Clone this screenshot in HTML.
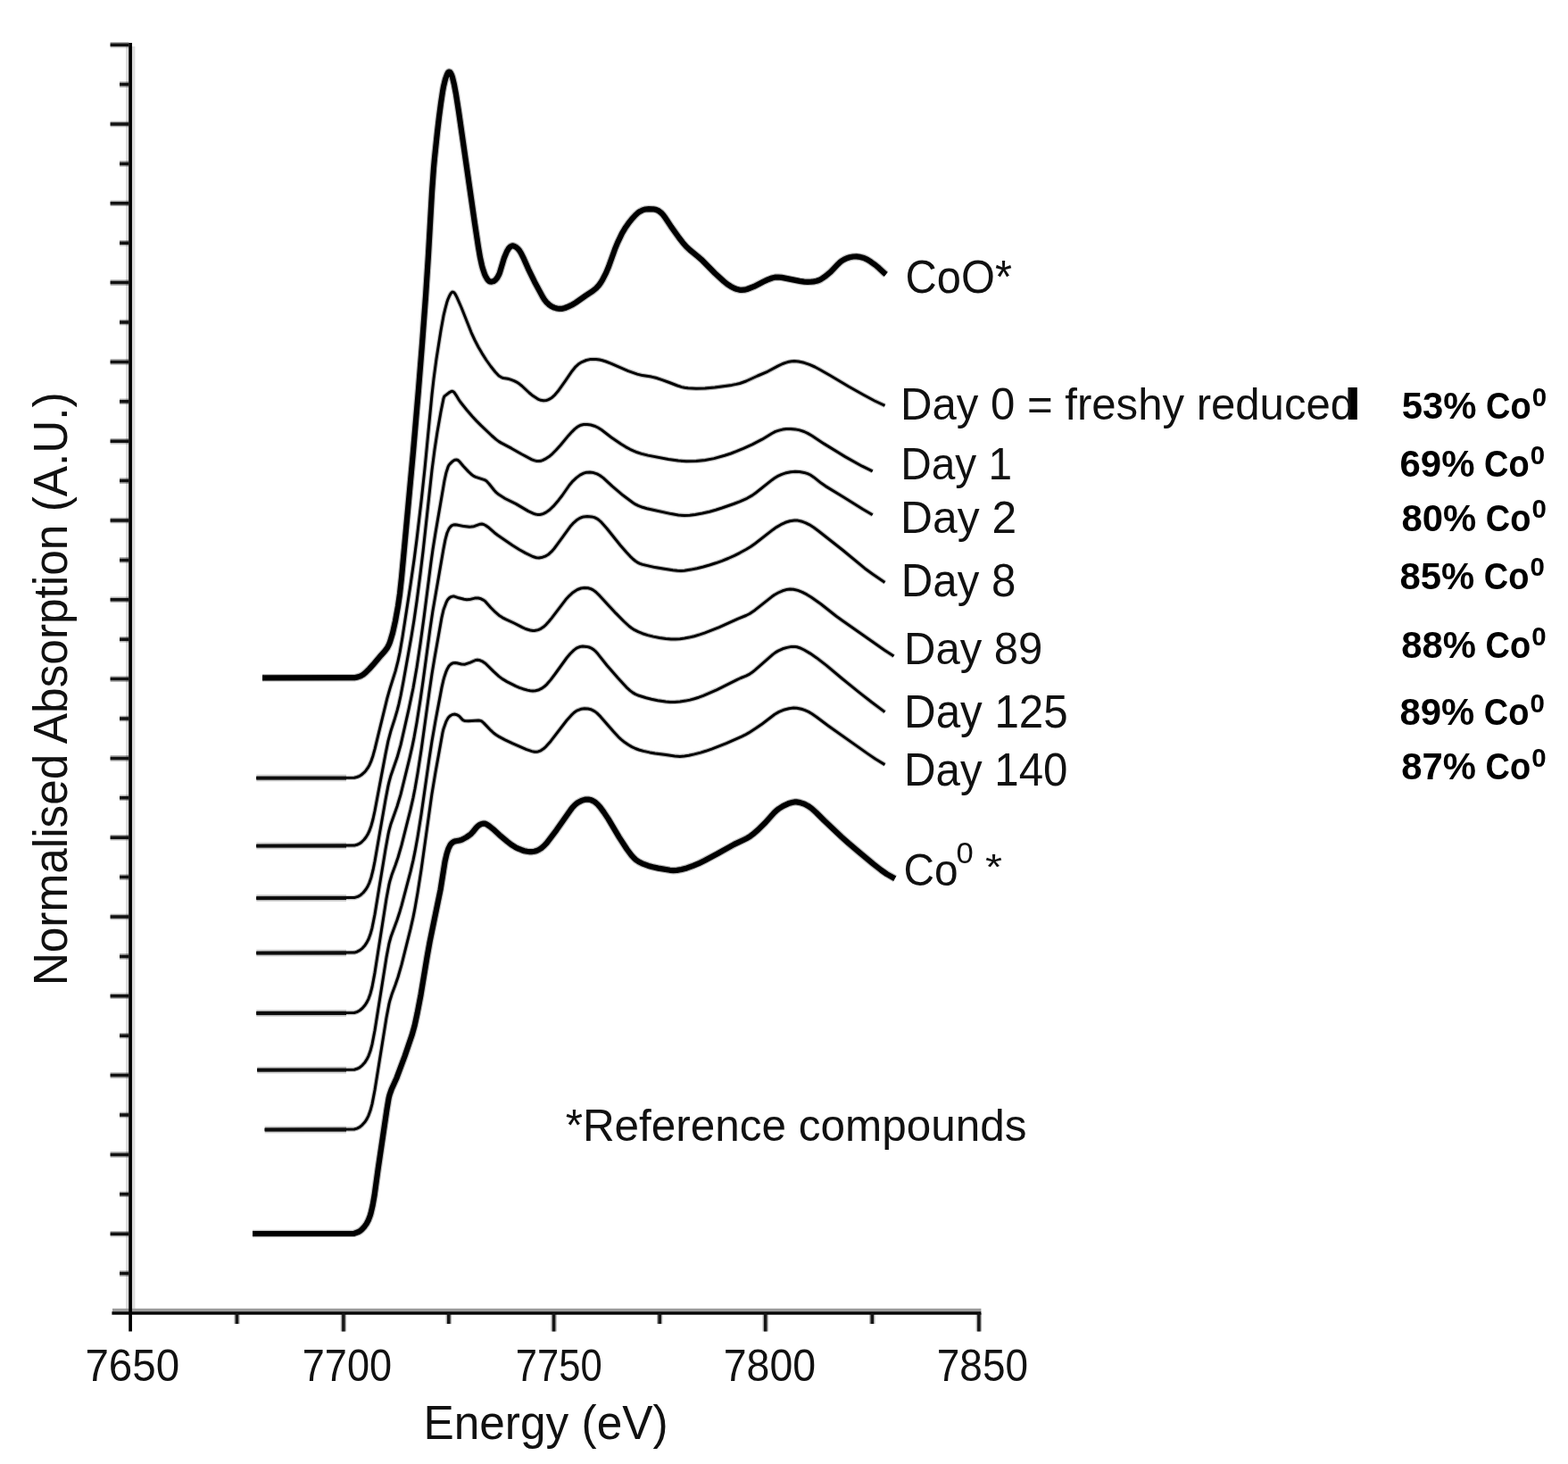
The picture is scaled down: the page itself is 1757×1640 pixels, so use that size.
<!DOCTYPE html>
<html lang="en"><head><meta charset="utf-8"><title>Co K-edge XANES</title>
<style>html,body{margin:0;padding:0;background:#fff}body{width:1757px;height:1640px;overflow:hidden}svg{display:block}</style>
</head><body>
<svg width="1757" height="1640" viewBox="0 0 1757 1640">
<rect width="1757" height="1640" fill="#fff"/>
<g>
<g fill="none" stroke-linecap="butt">
<rect x="141" y="52" width="10.4" height="1414" fill="#dcdcdc"/>
<rect x="126" y="1465.8" width="973.4" height="3.6" fill="#9c9c9c"/>
<path d="M146.1 48 V1491.6" stroke="#000" stroke-width="3.7"/>
<path d="M125.4 1471 H1099.4" stroke="#050505" stroke-width="3.6"/>
</g>
<path d="M123.6 50.2 H144.4 M134 94.6 H144.4 M123.6 139.0 H144.4 M134 183.4 H144.4 M123.6 227.8 H144.4 M134 272.2 H144.4 M123.6 316.6 H144.4 M134 361.0 H144.4 M123.6 405.4 H144.4 M134 449.8 H144.4 M123.6 494.2 H144.4 M134 538.6 H144.4 M123.6 583.0 H144.4 M134 627.4 H144.4 M123.6 671.8 H144.4 M134 716.2 H144.4 M123.6 760.6 H144.4 M134 805.0 H144.4 M123.6 849.4 H144.4 M134 893.8 H144.4 M123.6 938.2 H144.4 M134 982.6 H144.4 M123.6 1027.0 H144.4 M134 1071.4 H144.4 M123.6 1115.8 H144.4 M134 1160.2 H144.4 M123.6 1204.6 H144.4 M134 1249.0 H144.4 M123.6 1293.4 H144.4 M134 1337.8 H144.4 M123.6 1382.2 H144.4 M134 1426.6 H144.4" stroke="#000" stroke-opacity="0.3" stroke-width="6.6" fill="none"/>
<path d="M123.6 50.2 H144.4 M134 94.6 H144.4 M123.6 139.0 H144.4 M134 183.4 H144.4 M123.6 227.8 H144.4 M134 272.2 H144.4 M123.6 316.6 H144.4 M134 361.0 H144.4 M123.6 405.4 H144.4 M134 449.8 H144.4 M123.6 494.2 H144.4 M134 538.6 H144.4 M123.6 583.0 H144.4 M134 627.4 H144.4 M123.6 671.8 H144.4 M134 716.2 H144.4 M123.6 760.6 H144.4 M134 805.0 H144.4 M123.6 849.4 H144.4 M134 893.8 H144.4 M123.6 938.2 H144.4 M134 982.6 H144.4 M123.6 1027.0 H144.4 M134 1071.4 H144.4 M123.6 1115.8 H144.4 M134 1160.2 H144.4 M123.6 1204.6 H144.4 M134 1249.0 H144.4 M123.6 1293.4 H144.4 M134 1337.8 H144.4 M123.6 1382.2 H144.4 M134 1426.6 H144.4" stroke="#111" stroke-width="3.5" fill="none"/>
<path d="M384.9 1471 V1491.6 M620.6 1471 V1491.6 M857.7 1471 V1491.6 M1096.9 1471 V1491.6 M265.5 1471 V1483 M502.8 1471 V1483 M739.2 1471 V1483 M977.3 1471 V1483" stroke="#000" stroke-opacity="0.3" stroke-width="6.4" fill="none"/>
<path d="M384.9 1471 V1491.6 M620.6 1471 V1491.6 M857.7 1471 V1491.6 M1096.9 1471 V1491.6 M265.5 1471 V1483 M502.8 1471 V1483 M739.2 1471 V1483 M977.3 1471 V1483" stroke="#161616" stroke-width="3.5" fill="none"/>
<g fill="none" stroke="#000" stroke-linejoin="round" stroke-linecap="butt">
<g stroke-opacity="0.25">
<path stroke-width="5.3" d="M287.3 871.6 L397.0 871.2 L400.0 870.5 L403.0 869.3 L405.0 868.0 L408.0 865.4 L410.0 863.2 L412.0 860.4 L414.0 856.9 L416.0 852.3 L418.0 846.4 L420.0 839.1 L434.0 781.7 L437.0 771.1 L443.0 752.1 L446.0 740.4 L448.0 731.0 L451.0 713.6 L460.0 655.1 L464.0 627.3 L467.0 604.2 L472.0 562.0 L476.0 524.9 L484.0 442.0 L486.0 424.3 L489.0 402.0 L494.0 370.3 L497.0 353.7 L499.0 345.3 L501.0 337.9 L502.0 335.1 L504.0 330.7 L505.0 328.9 L506.0 327.7 L507.0 327.1 L508.0 327.3 L509.0 328.0 L510.0 329.3 L512.0 333.1 L517.0 344.5 L528.0 372.3 L532.0 381.0 L536.0 388.7 L540.0 395.6 L545.0 403.5 L550.0 410.5 L555.0 416.8 L559.0 421.0 L562.0 422.8 L564.0 423.5 L569.0 424.3 L572.0 425.1 L576.0 426.7 L580.0 428.7 L582.0 430.1 L585.0 432.5 L593.0 440.0 L597.0 443.3 L602.0 446.6 L604.0 447.6 L606.0 448.3 L609.0 448.8 L612.0 448.5 L614.0 447.9 L616.0 446.9 L619.0 444.9 L622.0 442.1 L625.0 438.6 L633.0 427.4 L641.0 415.7 L645.0 410.8 L648.0 408.1 L652.0 405.6 L657.0 403.5 L661.0 402.6 L664.0 402.4 L668.0 402.5 L672.0 403.0 L675.0 403.7 L679.0 405.0 L685.0 407.3 L704.0 415.6 L714.0 419.1 L720.0 420.6 L730.0 422.1 L735.0 423.3 L742.0 425.6 L750.0 428.5 L759.0 432.0 L764.0 433.6 L767.0 434.2 L771.0 434.8 L780.0 435.3 L790.0 435.0 L801.0 434.0 L820.0 431.4 L825.0 430.4 L829.0 429.5 L836.0 427.0 L849.0 421.0 L860.0 416.3 L872.0 409.9 L877.0 407.5 L881.0 406.1 L884.0 405.3 L887.0 404.8 L890.0 404.6 L895.0 405.0 L901.0 406.3 L907.0 408.4 L913.0 411.0 L919.0 414.2 L930.0 420.5 L951.0 433.0 L967.0 442.0 L980.0 449.0 L991.5 454.3"/>
<path stroke-width="5.3" d="M287.3 947.6 L397.0 947.1 L400.0 946.3 L403.0 944.9 L405.0 943.5 L408.0 940.5 L410.0 938.0 L412.0 934.8 L414.0 930.5 L416.0 924.9 L418.0 917.5 L420.0 908.2 L432.0 844.6 L435.0 829.9 L438.0 818.6 L442.0 806.3 L445.0 796.1 L447.0 788.3 L449.0 779.2 L452.0 763.4 L461.0 713.0 L464.0 694.4 L467.0 673.7 L471.0 643.0 L474.0 618.0 L484.0 526.7 L487.0 503.7 L490.0 484.0 L494.0 461.3 L497.0 446.4 L498.0 443.9 L504.0 439.3 L506.0 438.3 L507.0 438.3 L508.0 438.8 L509.0 439.7 L511.0 442.6 L514.0 447.6 L516.0 450.5 L523.0 459.3 L529.0 466.3 L534.0 471.6 L539.0 476.6 L551.0 488.0 L556.0 492.4 L559.0 494.6 L562.0 496.4 L573.0 502.2 L585.0 509.0 L596.0 514.8 L599.0 515.9 L601.0 516.4 L604.0 516.6 L606.0 516.3 L608.0 515.6 L612.0 513.6 L616.0 510.9 L619.0 508.3 L623.0 504.2 L628.0 498.7 L637.0 487.9 L641.0 483.6 L644.0 480.6 L647.0 478.3 L649.0 477.1 L651.0 476.2 L654.0 475.5 L658.0 475.4 L662.0 476.0 L666.0 477.2 L670.0 479.0 L674.0 481.5 L685.0 490.0 L696.0 497.5 L701.0 500.6 L706.0 503.3 L710.0 505.2 L714.0 506.8 L719.0 508.4 L726.0 510.1 L749.0 514.5 L760.0 516.1 L769.0 516.7 L780.0 516.5 L790.0 515.5 L800.0 513.6 L812.0 510.3 L819.0 508.0 L825.0 505.7 L833.0 502.4 L843.0 497.9 L854.0 492.2 L865.0 485.5 L869.0 483.4 L873.0 482.1 L877.0 481.1 L881.0 480.6 L886.0 480.5 L891.0 480.9 L896.0 481.9 L901.0 483.5 L905.0 485.4 L910.0 488.3 L923.0 496.9 L947.0 511.6 L966.0 522.2 L977.7 527.9"/>
<path stroke-width="5.3" d="M287.3 1006.1 L397.0 1005.6 L401.0 1004.4 L404.0 1002.7 L407.0 1000.0 L410.0 996.3 L412.0 993.0 L414.0 988.6 L416.0 982.7 L418.0 974.7 L420.0 964.7 L432.0 895.8 L435.0 880.1 L436.0 875.8 L438.0 868.7 L445.0 848.6 L449.0 834.3 L458.0 794.7 L463.0 770.7 L467.0 747.8 L471.0 721.3 L475.0 692.0 L483.0 629.6 L485.0 615.5 L488.0 596.8 L498.0 538.4 L500.0 529.4 L502.0 523.2 L503.0 521.1 L504.0 519.8 L507.0 516.9 L509.0 515.6 L510.0 515.2 L512.0 515.1 L513.0 515.5 L515.0 517.2 L519.0 522.0 L525.0 528.4 L529.0 532.1 L531.0 533.4 L533.0 534.3 L543.0 537.6 L545.0 538.8 L548.0 542.0 L554.0 549.5 L556.0 551.6 L559.0 554.1 L566.0 558.5 L578.0 564.4 L592.0 572.6 L598.0 575.4 L600.0 576.0 L602.0 576.4 L605.0 576.4 L607.0 576.1 L609.0 575.4 L612.0 573.9 L616.0 571.0 L620.0 567.2 L626.0 560.2 L630.0 555.0 L638.0 543.5 L642.0 538.8 L646.0 535.1 L650.0 532.1 L654.0 530.1 L657.0 529.3 L661.0 529.1 L665.0 529.6 L669.0 530.9 L672.0 532.5 L676.0 535.4 L686.0 544.7 L698.0 554.8 L709.0 563.0 L712.0 564.9 L715.0 566.4 L720.0 568.3 L725.0 569.7 L752.0 575.6 L760.0 577.0 L767.0 577.5 L773.0 577.2 L779.0 576.4 L787.0 575.0 L795.0 573.2 L802.0 571.2 L809.0 569.0 L822.0 564.5 L829.0 561.8 L837.0 558.3 L843.0 554.9 L847.0 552.0 L865.0 537.7 L868.0 535.6 L871.0 533.7 L876.0 531.4 L881.0 529.7 L886.0 528.7 L891.0 528.3 L896.0 528.6 L901.0 529.4 L905.0 530.6 L908.0 532.0 L912.0 534.7 L920.0 541.1 L925.0 544.6 L945.0 556.7 L967.0 570.5 L977.7 576.7"/>
<path stroke-width="5.3" d="M287.3 1067.6 L397.0 1067.1 L400.0 1066.2 L403.0 1064.7 L406.0 1062.3 L409.0 1058.9 L411.0 1055.9 L413.0 1052.0 L415.0 1046.6 L417.0 1039.3 L420.0 1024.2 L432.0 951.2 L435.0 934.7 L436.0 930.2 L438.0 922.9 L445.0 903.3 L449.0 889.9 L459.0 849.2 L462.0 835.9 L464.0 826.1 L467.0 809.4 L471.0 784.2 L474.0 763.3 L482.0 704.1 L485.0 683.9 L497.0 614.6 L499.0 604.4 L501.0 597.0 L503.0 592.5 L504.0 591.0 L506.0 588.9 L508.0 588.0 L510.0 587.8 L512.0 588.0 L520.0 589.6 L526.0 590.2 L528.0 590.1 L531.0 589.7 L538.0 587.2 L540.0 587.0 L542.0 587.5 L544.0 588.5 L548.0 591.3 L554.0 596.7 L558.0 599.8 L574.0 610.7 L582.0 615.7 L589.0 619.6 L597.0 623.5 L601.0 624.7 L604.0 624.9 L608.0 624.2 L611.0 623.1 L613.0 622.0 L615.0 620.7 L618.0 617.9 L621.0 614.5 L625.0 609.2 L639.0 589.8 L642.0 586.4 L646.0 582.8 L650.0 580.3 L652.0 579.5 L654.0 578.9 L658.0 578.5 L663.0 578.9 L666.0 579.6 L669.0 581.1 L671.0 582.5 L674.0 585.2 L680.0 592.0 L695.0 610.7 L702.0 618.8 L706.0 623.1 L709.0 626.0 L712.0 628.5 L714.0 629.8 L717.0 631.3 L720.0 632.4 L734.0 635.6 L743.0 637.1 L754.0 638.7 L759.0 639.3 L763.0 639.5 L767.0 639.2 L774.0 638.1 L781.0 636.7 L788.0 635.0 L795.0 633.0 L802.0 630.8 L809.0 628.3 L816.0 625.5 L823.0 622.3 L829.0 619.3 L836.0 615.5 L841.0 612.5 L846.0 609.0 L866.0 593.4 L870.0 590.6 L875.0 587.7 L880.0 585.3 L885.0 583.7 L890.0 583.0 L894.0 583.1 L899.0 584.3 L903.0 585.8 L907.0 587.8 L912.0 591.0 L917.0 594.7 L944.0 616.0 L969.0 636.7 L978.0 643.3 L991.5 652.4"/>
<path stroke-width="5.3" d="M287.3 1135.0 L397.0 1134.5 L400.0 1133.6 L403.0 1132.0 L406.0 1129.5 L409.0 1126.0 L411.0 1122.9 L413.0 1118.8 L415.0 1113.2 L417.0 1105.5 L420.0 1089.6 L433.0 1006.5 L436.0 990.6 L437.0 986.6 L439.0 980.1 L443.0 969.3 L446.0 960.5 L450.0 946.7 L460.0 906.9 L463.0 893.6 L465.0 883.5 L468.0 866.3 L472.0 840.5 L481.0 775.4 L484.0 754.9 L487.0 736.7 L495.0 691.6 L497.0 683.0 L500.0 675.0 L501.0 672.9 L502.0 671.4 L504.0 669.4 L506.0 668.4 L508.0 668.0 L509.0 668.1 L514.0 669.8 L520.0 671.3 L523.0 671.7 L526.0 671.6 L532.0 670.1 L534.0 669.9 L536.0 670.0 L539.0 670.8 L542.0 672.3 L544.0 673.9 L550.0 680.7 L555.0 685.7 L559.0 689.2 L563.0 691.8 L567.0 693.9 L576.0 698.0 L585.0 702.7 L589.0 704.5 L594.0 706.0 L597.0 706.4 L599.0 706.4 L601.0 706.1 L603.0 705.6 L606.0 704.3 L609.0 702.3 L612.0 699.6 L615.0 696.3 L618.0 692.6 L634.0 671.6 L638.0 667.3 L642.0 663.7 L645.0 661.7 L647.0 660.5 L651.0 659.0 L655.0 658.4 L659.0 658.7 L662.0 659.6 L664.0 660.6 L666.0 661.9 L668.0 663.5 L672.0 667.4 L690.0 686.9 L699.0 696.0 L705.0 701.5 L708.0 703.8 L711.0 705.7 L715.0 707.7 L720.0 709.7 L726.0 711.6 L732.0 713.1 L739.0 714.5 L746.0 715.4 L752.0 716.0 L757.0 716.0 L762.0 715.7 L767.0 715.0 L772.0 714.1 L778.0 712.7 L784.0 710.9 L790.0 708.9 L806.0 702.7 L827.0 693.1 L836.0 689.5 L840.0 687.5 L846.0 683.4 L865.0 668.3 L868.0 666.2 L872.0 664.0 L877.0 661.8 L881.0 660.6 L885.0 660.0 L889.0 660.2 L894.0 661.4 L899.0 663.4 L904.0 665.9 L909.0 669.0 L920.0 676.8 L937.0 690.2 L944.0 695.3 L965.0 709.9 L991.0 728.2 L1001.5 735.1"/>
<path stroke-width="5.3" d="M288.2 1198.7 L397.0 1198.2 L400.0 1197.3 L403.0 1195.8 L406.0 1193.3 L409.0 1189.9 L411.0 1186.8 L413.0 1182.8 L415.0 1177.3 L417.0 1169.8 L420.0 1154.2 L433.0 1072.4 L436.0 1056.8 L438.0 1049.5 L445.0 1030.5 L448.0 1021.2 L450.0 1014.3 L460.0 976.4 L463.0 963.6 L465.0 953.9 L468.0 937.4 L472.0 912.5 L481.0 849.8 L484.0 830.2 L488.0 807.2 L495.0 770.1 L497.0 761.4 L498.0 757.9 L500.0 752.1 L501.0 749.8 L503.0 746.3 L504.0 745.1 L506.0 743.5 L508.0 742.7 L510.0 742.6 L512.0 742.8 L517.0 744.0 L521.0 744.2 L527.0 742.2 L533.0 739.5 L535.0 739.2 L538.0 739.8 L541.0 741.2 L544.0 743.2 L553.0 752.1 L559.0 757.6 L563.0 760.6 L568.0 763.6 L578.0 768.6 L582.0 770.3 L586.0 771.7 L591.0 773.1 L594.0 773.7 L597.0 774.0 L600.0 773.8 L604.0 772.7 L607.0 771.2 L610.0 769.1 L613.0 766.3 L617.0 761.6 L622.0 755.0 L635.0 737.0 L639.0 732.3 L643.0 728.4 L645.0 726.8 L647.0 725.6 L650.0 724.5 L653.0 724.1 L657.0 724.4 L660.0 725.0 L662.0 725.8 L665.0 727.6 L667.0 729.3 L670.0 732.6 L680.0 745.2 L692.0 759.1 L703.0 770.9 L706.0 773.6 L709.0 775.9 L712.0 777.6 L716.0 779.3 L724.0 781.8 L730.0 783.3 L737.0 784.7 L746.0 786.1 L751.0 786.5 L756.0 786.4 L762.0 785.9 L768.0 785.1 L773.0 784.1 L778.0 782.8 L783.0 781.2 L788.0 779.3 L803.0 772.8 L810.0 769.4 L826.0 761.3 L830.0 759.5 L836.0 757.2 L840.0 755.1 L843.0 753.0 L846.0 750.6 L866.0 733.1 L869.0 730.9 L872.0 729.1 L877.0 726.8 L882.0 725.4 L887.0 724.4 L891.0 724.5 L893.0 724.8 L896.0 725.7 L901.0 728.0 L908.0 732.1 L915.0 736.9 L926.0 745.4 L944.0 760.5 L963.0 775.8 L977.0 786.8 L991.5 797.6"/>
<path stroke-width="5.3" d="M296.7 1265.5 L397.0 1265.0 L400.0 1264.1 L403.0 1262.6 L406.0 1260.1 L409.0 1256.7 L411.0 1253.6 L413.0 1249.6 L415.0 1244.1 L417.0 1236.6 L420.0 1221.1 L433.0 1140.0 L436.0 1124.4 L437.0 1120.5 L439.0 1114.1 L443.0 1103.3 L446.0 1094.5 L450.0 1080.7 L460.0 1040.7 L463.0 1027.4 L465.0 1017.2 L468.0 1000.1 L472.0 974.4 L484.0 888.9 L488.0 865.0 L496.0 820.5 L497.0 816.4 L500.0 808.1 L502.0 804.4 L503.0 803.2 L505.0 801.5 L507.0 800.5 L509.0 800.1 L510.0 800.2 L512.0 800.8 L514.0 801.9 L515.0 802.7 L518.0 806.1 L519.0 806.8 L521.0 807.5 L525.0 807.7 L536.0 807.1 L538.0 807.3 L539.0 807.7 L540.0 808.2 L542.0 809.9 L550.0 818.2 L553.0 821.0 L556.0 823.3 L559.0 825.1 L566.0 828.8 L574.0 832.7 L590.0 839.6 L596.0 841.6 L599.0 842.2 L601.0 842.2 L603.0 841.9 L606.0 840.8 L609.0 838.8 L612.0 836.1 L617.0 830.4 L635.0 807.0 L640.0 801.4 L643.0 798.5 L645.0 797.0 L647.0 795.8 L651.0 794.3 L655.0 793.7 L659.0 794.0 L662.0 794.7 L664.0 795.6 L667.0 797.3 L669.0 798.9 L673.0 802.9 L687.0 819.1 L693.0 825.6 L696.0 828.3 L700.0 831.6 L704.0 834.3 L708.0 836.6 L712.0 838.5 L716.0 840.0 L721.0 841.4 L728.0 842.9 L734.0 843.9 L746.0 845.5 L756.0 847.0 L762.0 847.4 L767.0 847.0 L772.0 846.2 L778.0 844.9 L785.0 843.1 L791.0 841.3 L798.0 838.9 L814.0 832.7 L831.0 825.1 L835.0 823.2 L839.0 820.9 L847.0 815.8 L854.0 811.0 L868.0 800.3 L873.0 797.4 L878.0 795.3 L884.0 793.7 L889.0 793.0 L893.0 793.2 L898.0 794.3 L902.0 795.6 L906.0 797.4 L910.0 799.8 L915.0 803.2 L928.0 813.0 L972.0 844.1 L981.0 850.2 L991.5 856.6"/>
<path stroke-width="8.6" d="M294.0 759.3 L397.0 759.2 L401.0 758.4 L404.0 757.4 L407.0 755.6 L410.0 753.1 L414.0 749.1 L418.0 744.7 L427.0 734.1 L431.0 729.7 L434.0 725.6 L436.0 721.6 L437.0 719.1 L440.0 709.1 L443.0 695.6 L446.0 679.0 L448.0 665.2 L450.0 646.9 L463.0 506.1 L469.0 435.9 L473.0 385.7 L477.0 332.0 L480.0 285.7 L484.0 215.4 L486.0 187.6 L487.0 176.8 L490.0 148.1 L492.0 131.0 L494.0 115.9 L496.0 102.6 L497.0 96.9 L499.0 88.7 L501.0 83.2 L502.0 81.4 L503.0 80.5 L504.0 80.7 L505.0 81.8 L506.0 83.8 L507.0 86.8 L509.0 95.1 L511.0 105.8 L514.0 124.9 L532.0 250.3 L536.0 276.7 L538.0 288.4 L540.0 297.5 L541.0 301.1 L543.0 307.0 L544.0 309.3 L546.0 312.8 L547.0 314.0 L548.0 314.9 L549.0 315.4 L551.0 315.6 L553.0 315.1 L555.0 313.7 L557.0 311.4 L559.0 307.8 L560.0 305.3 L565.0 288.7 L568.0 281.6 L570.0 278.3 L572.0 276.3 L573.0 275.7 L574.0 275.4 L575.0 275.4 L576.0 275.7 L578.0 276.7 L580.0 278.3 L582.0 280.6 L584.0 283.8 L587.0 289.9 L592.0 301.3 L599.0 315.7 L608.0 332.4 L610.0 335.6 L612.0 338.2 L615.0 341.1 L618.0 343.2 L621.0 344.6 L624.0 345.5 L627.0 345.9 L630.0 345.8 L633.0 345.0 L637.0 343.4 L641.0 341.5 L645.0 339.1 L656.0 331.4 L664.0 326.2 L668.0 322.9 L671.0 319.6 L673.0 316.9 L675.0 313.7 L679.0 305.9 L682.0 298.8 L689.0 279.2 L692.0 271.8 L697.0 261.4 L701.0 254.7 L704.0 250.4 L708.0 245.3 L712.0 241.0 L715.0 238.3 L717.0 236.9 L720.0 235.4 L723.0 234.5 L727.0 234.1 L732.0 234.3 L735.0 234.9 L738.0 236.2 L741.0 238.5 L743.0 240.6 L745.0 243.3 L752.0 253.9 L761.0 266.5 L765.0 271.7 L769.0 276.3 L773.0 280.0 L782.0 287.3 L786.0 290.8 L801.0 306.0 L811.0 315.1 L815.0 318.3 L819.0 320.9 L823.0 323.0 L826.0 324.1 L829.0 324.8 L831.0 324.9 L834.0 324.7 L837.0 324.0 L845.0 320.9 L855.0 315.7 L860.0 313.4 L865.0 311.5 L869.0 310.6 L872.0 310.5 L876.0 310.9 L896.0 314.9 L901.0 315.6 L905.0 315.8 L909.0 315.7 L912.0 315.4 L915.0 314.8 L918.0 313.8 L920.0 312.8 L925.0 309.4 L931.0 304.3 L939.0 295.9 L941.0 294.0 L943.0 292.4 L946.0 290.6 L949.0 289.2 L952.0 288.3 L956.0 287.5 L960.0 287.4 L964.0 287.9 L968.0 289.0 L972.0 290.9 L976.0 293.4 L981.0 297.0 L985.0 300.4 L991.0 306.0 L992.8 307.4"/>
<path stroke-width="8.6" d="M283.0 1382.0 L396.6 1381.8 L401.6 1380.0 L403.6 1378.8 L405.6 1377.1 L408.6 1373.8 L410.6 1371.0 L412.6 1367.3 L414.6 1362.2 L415.6 1358.9 L417.6 1350.3 L419.6 1338.9 L423.6 1309.8 L433.6 1242.1 L435.6 1230.3 L436.6 1226.3 L438.6 1220.6 L444.6 1207.2 L453.6 1183.0 L461.6 1159.6 L464.6 1148.9 L467.6 1135.0 L471.6 1114.1 L478.6 1071.7 L481.6 1055.0 L493.6 996.5 L498.6 965.0 L500.6 956.4 L502.6 950.3 L504.6 946.4 L505.6 945.1 L507.6 943.4 L508.6 942.8 L510.6 942.2 L514.6 941.5 L516.6 941.0 L518.6 940.1 L522.6 937.9 L525.6 935.9 L527.6 934.3 L529.6 932.2 L533.6 927.2 L535.6 925.3 L537.6 923.9 L539.6 923.0 L541.6 922.6 L542.6 922.6 L543.6 922.7 L545.6 923.6 L548.6 925.6 L552.6 928.8 L559.6 935.3 L568.6 942.9 L573.6 946.7 L577.6 949.2 L580.6 950.6 L584.6 952.2 L587.6 953.2 L590.6 953.8 L593.6 954.2 L595.6 954.2 L598.6 953.8 L600.6 953.3 L603.6 952.0 L606.6 950.1 L609.6 947.5 L612.6 944.3 L623.6 929.8 L639.6 907.0 L641.6 904.4 L643.6 902.3 L645.6 900.5 L647.6 899.0 L651.6 896.9 L655.6 895.7 L657.6 895.5 L659.6 895.6 L661.6 896.0 L663.6 896.7 L666.6 898.4 L669.6 901.0 L672.6 904.4 L676.6 909.9 L681.6 917.4 L693.6 937.6 L702.6 951.5 L707.6 958.2 L710.6 961.4 L712.6 963.2 L715.6 965.3 L719.6 967.3 L726.6 969.9 L731.6 971.3 L737.6 972.6 L750.6 974.8 L754.6 975.1 L758.6 974.9 L763.6 974.0 L769.6 972.4 L776.6 969.9 L782.6 967.4 L789.6 963.9 L803.6 956.5 L822.6 945.9 L833.6 940.7 L837.6 938.7 L840.6 936.8 L843.6 934.6 L849.6 929.4 L857.6 921.5 L867.6 910.3 L869.6 908.4 L872.6 906.0 L877.6 902.8 L883.6 900.1 L888.6 898.7 L890.6 898.4 L892.6 898.4 L896.6 899.1 L901.6 900.8 L905.6 902.9 L909.6 905.7 L914.6 910.2 L923.6 919.2 L942.6 937.2 L950.6 944.4 L960.6 952.9 L978.6 967.9 L987.6 974.9 L993.6 979.1 L1002.8 984.3"/>
<path stroke-width="8" stroke-opacity="0.16" d="M287.3 871.6 H388.0 M287.3 947.6 H388.0 M287.3 1006.1 H388.0 M287.3 1067.6 H388.0 M287.3 1135.0 H388.0 M288.2 1198.7 H388.0 M296.7 1265.5 H388.0"/>
</g>
<path stroke-width="3.0" d="M287.3 871.6 L397.0 871.2 L400.0 870.5 L403.0 869.3 L405.0 868.0 L408.0 865.4 L410.0 863.2 L412.0 860.4 L414.0 856.9 L416.0 852.3 L418.0 846.4 L420.0 839.1 L434.0 781.7 L437.0 771.1 L443.0 752.1 L446.0 740.4 L448.0 731.0 L451.0 713.6 L460.0 655.1 L464.0 627.3 L467.0 604.2 L472.0 562.0 L476.0 524.9 L484.0 442.0 L486.0 424.3 L489.0 402.0 L494.0 370.3 L497.0 353.7 L499.0 345.3 L501.0 337.9 L502.0 335.1 L504.0 330.7 L505.0 328.9 L506.0 327.7 L507.0 327.1 L508.0 327.3 L509.0 328.0 L510.0 329.3 L512.0 333.1 L517.0 344.5 L528.0 372.3 L532.0 381.0 L536.0 388.7 L540.0 395.6 L545.0 403.5 L550.0 410.5 L555.0 416.8 L559.0 421.0 L562.0 422.8 L564.0 423.5 L569.0 424.3 L572.0 425.1 L576.0 426.7 L580.0 428.7 L582.0 430.1 L585.0 432.5 L593.0 440.0 L597.0 443.3 L602.0 446.6 L604.0 447.6 L606.0 448.3 L609.0 448.8 L612.0 448.5 L614.0 447.9 L616.0 446.9 L619.0 444.9 L622.0 442.1 L625.0 438.6 L633.0 427.4 L641.0 415.7 L645.0 410.8 L648.0 408.1 L652.0 405.6 L657.0 403.5 L661.0 402.6 L664.0 402.4 L668.0 402.5 L672.0 403.0 L675.0 403.7 L679.0 405.0 L685.0 407.3 L704.0 415.6 L714.0 419.1 L720.0 420.6 L730.0 422.1 L735.0 423.3 L742.0 425.6 L750.0 428.5 L759.0 432.0 L764.0 433.6 L767.0 434.2 L771.0 434.8 L780.0 435.3 L790.0 435.0 L801.0 434.0 L820.0 431.4 L825.0 430.4 L829.0 429.5 L836.0 427.0 L849.0 421.0 L860.0 416.3 L872.0 409.9 L877.0 407.5 L881.0 406.1 L884.0 405.3 L887.0 404.8 L890.0 404.6 L895.0 405.0 L901.0 406.3 L907.0 408.4 L913.0 411.0 L919.0 414.2 L930.0 420.5 L951.0 433.0 L967.0 442.0 L980.0 449.0 L991.5 454.3"/>
<path stroke-width="3.0" d="M287.3 947.6 L397.0 947.1 L400.0 946.3 L403.0 944.9 L405.0 943.5 L408.0 940.5 L410.0 938.0 L412.0 934.8 L414.0 930.5 L416.0 924.9 L418.0 917.5 L420.0 908.2 L432.0 844.6 L435.0 829.9 L438.0 818.6 L442.0 806.3 L445.0 796.1 L447.0 788.3 L449.0 779.2 L452.0 763.4 L461.0 713.0 L464.0 694.4 L467.0 673.7 L471.0 643.0 L474.0 618.0 L484.0 526.7 L487.0 503.7 L490.0 484.0 L494.0 461.3 L497.0 446.4 L498.0 443.9 L504.0 439.3 L506.0 438.3 L507.0 438.3 L508.0 438.8 L509.0 439.7 L511.0 442.6 L514.0 447.6 L516.0 450.5 L523.0 459.3 L529.0 466.3 L534.0 471.6 L539.0 476.6 L551.0 488.0 L556.0 492.4 L559.0 494.6 L562.0 496.4 L573.0 502.2 L585.0 509.0 L596.0 514.8 L599.0 515.9 L601.0 516.4 L604.0 516.6 L606.0 516.3 L608.0 515.6 L612.0 513.6 L616.0 510.9 L619.0 508.3 L623.0 504.2 L628.0 498.7 L637.0 487.9 L641.0 483.6 L644.0 480.6 L647.0 478.3 L649.0 477.1 L651.0 476.2 L654.0 475.5 L658.0 475.4 L662.0 476.0 L666.0 477.2 L670.0 479.0 L674.0 481.5 L685.0 490.0 L696.0 497.5 L701.0 500.6 L706.0 503.3 L710.0 505.2 L714.0 506.8 L719.0 508.4 L726.0 510.1 L749.0 514.5 L760.0 516.1 L769.0 516.7 L780.0 516.5 L790.0 515.5 L800.0 513.6 L812.0 510.3 L819.0 508.0 L825.0 505.7 L833.0 502.4 L843.0 497.9 L854.0 492.2 L865.0 485.5 L869.0 483.4 L873.0 482.1 L877.0 481.1 L881.0 480.6 L886.0 480.5 L891.0 480.9 L896.0 481.9 L901.0 483.5 L905.0 485.4 L910.0 488.3 L923.0 496.9 L947.0 511.6 L966.0 522.2 L977.7 527.9"/>
<path stroke-width="3.0" d="M287.3 1006.1 L397.0 1005.6 L401.0 1004.4 L404.0 1002.7 L407.0 1000.0 L410.0 996.3 L412.0 993.0 L414.0 988.6 L416.0 982.7 L418.0 974.7 L420.0 964.7 L432.0 895.8 L435.0 880.1 L436.0 875.8 L438.0 868.7 L445.0 848.6 L449.0 834.3 L458.0 794.7 L463.0 770.7 L467.0 747.8 L471.0 721.3 L475.0 692.0 L483.0 629.6 L485.0 615.5 L488.0 596.8 L498.0 538.4 L500.0 529.4 L502.0 523.2 L503.0 521.1 L504.0 519.8 L507.0 516.9 L509.0 515.6 L510.0 515.2 L512.0 515.1 L513.0 515.5 L515.0 517.2 L519.0 522.0 L525.0 528.4 L529.0 532.1 L531.0 533.4 L533.0 534.3 L543.0 537.6 L545.0 538.8 L548.0 542.0 L554.0 549.5 L556.0 551.6 L559.0 554.1 L566.0 558.5 L578.0 564.4 L592.0 572.6 L598.0 575.4 L600.0 576.0 L602.0 576.4 L605.0 576.4 L607.0 576.1 L609.0 575.4 L612.0 573.9 L616.0 571.0 L620.0 567.2 L626.0 560.2 L630.0 555.0 L638.0 543.5 L642.0 538.8 L646.0 535.1 L650.0 532.1 L654.0 530.1 L657.0 529.3 L661.0 529.1 L665.0 529.6 L669.0 530.9 L672.0 532.5 L676.0 535.4 L686.0 544.7 L698.0 554.8 L709.0 563.0 L712.0 564.9 L715.0 566.4 L720.0 568.3 L725.0 569.7 L752.0 575.6 L760.0 577.0 L767.0 577.5 L773.0 577.2 L779.0 576.4 L787.0 575.0 L795.0 573.2 L802.0 571.2 L809.0 569.0 L822.0 564.5 L829.0 561.8 L837.0 558.3 L843.0 554.9 L847.0 552.0 L865.0 537.7 L868.0 535.6 L871.0 533.7 L876.0 531.4 L881.0 529.7 L886.0 528.7 L891.0 528.3 L896.0 528.6 L901.0 529.4 L905.0 530.6 L908.0 532.0 L912.0 534.7 L920.0 541.1 L925.0 544.6 L945.0 556.7 L967.0 570.5 L977.7 576.7"/>
<path stroke-width="3.0" d="M287.3 1067.6 L397.0 1067.1 L400.0 1066.2 L403.0 1064.7 L406.0 1062.3 L409.0 1058.9 L411.0 1055.9 L413.0 1052.0 L415.0 1046.6 L417.0 1039.3 L420.0 1024.2 L432.0 951.2 L435.0 934.7 L436.0 930.2 L438.0 922.9 L445.0 903.3 L449.0 889.9 L459.0 849.2 L462.0 835.9 L464.0 826.1 L467.0 809.4 L471.0 784.2 L474.0 763.3 L482.0 704.1 L485.0 683.9 L497.0 614.6 L499.0 604.4 L501.0 597.0 L503.0 592.5 L504.0 591.0 L506.0 588.9 L508.0 588.0 L510.0 587.8 L512.0 588.0 L520.0 589.6 L526.0 590.2 L528.0 590.1 L531.0 589.7 L538.0 587.2 L540.0 587.0 L542.0 587.5 L544.0 588.5 L548.0 591.3 L554.0 596.7 L558.0 599.8 L574.0 610.7 L582.0 615.7 L589.0 619.6 L597.0 623.5 L601.0 624.7 L604.0 624.9 L608.0 624.2 L611.0 623.1 L613.0 622.0 L615.0 620.7 L618.0 617.9 L621.0 614.5 L625.0 609.2 L639.0 589.8 L642.0 586.4 L646.0 582.8 L650.0 580.3 L652.0 579.5 L654.0 578.9 L658.0 578.5 L663.0 578.9 L666.0 579.6 L669.0 581.1 L671.0 582.5 L674.0 585.2 L680.0 592.0 L695.0 610.7 L702.0 618.8 L706.0 623.1 L709.0 626.0 L712.0 628.5 L714.0 629.8 L717.0 631.3 L720.0 632.4 L734.0 635.6 L743.0 637.1 L754.0 638.7 L759.0 639.3 L763.0 639.5 L767.0 639.2 L774.0 638.1 L781.0 636.7 L788.0 635.0 L795.0 633.0 L802.0 630.8 L809.0 628.3 L816.0 625.5 L823.0 622.3 L829.0 619.3 L836.0 615.5 L841.0 612.5 L846.0 609.0 L866.0 593.4 L870.0 590.6 L875.0 587.7 L880.0 585.3 L885.0 583.7 L890.0 583.0 L894.0 583.1 L899.0 584.3 L903.0 585.8 L907.0 587.8 L912.0 591.0 L917.0 594.7 L944.0 616.0 L969.0 636.7 L978.0 643.3 L991.5 652.4"/>
<path stroke-width="3.0" d="M287.3 1135.0 L397.0 1134.5 L400.0 1133.6 L403.0 1132.0 L406.0 1129.5 L409.0 1126.0 L411.0 1122.9 L413.0 1118.8 L415.0 1113.2 L417.0 1105.5 L420.0 1089.6 L433.0 1006.5 L436.0 990.6 L437.0 986.6 L439.0 980.1 L443.0 969.3 L446.0 960.5 L450.0 946.7 L460.0 906.9 L463.0 893.6 L465.0 883.5 L468.0 866.3 L472.0 840.5 L481.0 775.4 L484.0 754.9 L487.0 736.7 L495.0 691.6 L497.0 683.0 L500.0 675.0 L501.0 672.9 L502.0 671.4 L504.0 669.4 L506.0 668.4 L508.0 668.0 L509.0 668.1 L514.0 669.8 L520.0 671.3 L523.0 671.7 L526.0 671.6 L532.0 670.1 L534.0 669.9 L536.0 670.0 L539.0 670.8 L542.0 672.3 L544.0 673.9 L550.0 680.7 L555.0 685.7 L559.0 689.2 L563.0 691.8 L567.0 693.9 L576.0 698.0 L585.0 702.7 L589.0 704.5 L594.0 706.0 L597.0 706.4 L599.0 706.4 L601.0 706.1 L603.0 705.6 L606.0 704.3 L609.0 702.3 L612.0 699.6 L615.0 696.3 L618.0 692.6 L634.0 671.6 L638.0 667.3 L642.0 663.7 L645.0 661.7 L647.0 660.5 L651.0 659.0 L655.0 658.4 L659.0 658.7 L662.0 659.6 L664.0 660.6 L666.0 661.9 L668.0 663.5 L672.0 667.4 L690.0 686.9 L699.0 696.0 L705.0 701.5 L708.0 703.8 L711.0 705.7 L715.0 707.7 L720.0 709.7 L726.0 711.6 L732.0 713.1 L739.0 714.5 L746.0 715.4 L752.0 716.0 L757.0 716.0 L762.0 715.7 L767.0 715.0 L772.0 714.1 L778.0 712.7 L784.0 710.9 L790.0 708.9 L806.0 702.7 L827.0 693.1 L836.0 689.5 L840.0 687.5 L846.0 683.4 L865.0 668.3 L868.0 666.2 L872.0 664.0 L877.0 661.8 L881.0 660.6 L885.0 660.0 L889.0 660.2 L894.0 661.4 L899.0 663.4 L904.0 665.9 L909.0 669.0 L920.0 676.8 L937.0 690.2 L944.0 695.3 L965.0 709.9 L991.0 728.2 L1001.5 735.1"/>
<path stroke-width="3.0" d="M288.2 1198.7 L397.0 1198.2 L400.0 1197.3 L403.0 1195.8 L406.0 1193.3 L409.0 1189.9 L411.0 1186.8 L413.0 1182.8 L415.0 1177.3 L417.0 1169.8 L420.0 1154.2 L433.0 1072.4 L436.0 1056.8 L438.0 1049.5 L445.0 1030.5 L448.0 1021.2 L450.0 1014.3 L460.0 976.4 L463.0 963.6 L465.0 953.9 L468.0 937.4 L472.0 912.5 L481.0 849.8 L484.0 830.2 L488.0 807.2 L495.0 770.1 L497.0 761.4 L498.0 757.9 L500.0 752.1 L501.0 749.8 L503.0 746.3 L504.0 745.1 L506.0 743.5 L508.0 742.7 L510.0 742.6 L512.0 742.8 L517.0 744.0 L521.0 744.2 L527.0 742.2 L533.0 739.5 L535.0 739.2 L538.0 739.8 L541.0 741.2 L544.0 743.2 L553.0 752.1 L559.0 757.6 L563.0 760.6 L568.0 763.6 L578.0 768.6 L582.0 770.3 L586.0 771.7 L591.0 773.1 L594.0 773.7 L597.0 774.0 L600.0 773.8 L604.0 772.7 L607.0 771.2 L610.0 769.1 L613.0 766.3 L617.0 761.6 L622.0 755.0 L635.0 737.0 L639.0 732.3 L643.0 728.4 L645.0 726.8 L647.0 725.6 L650.0 724.5 L653.0 724.1 L657.0 724.4 L660.0 725.0 L662.0 725.8 L665.0 727.6 L667.0 729.3 L670.0 732.6 L680.0 745.2 L692.0 759.1 L703.0 770.9 L706.0 773.6 L709.0 775.9 L712.0 777.6 L716.0 779.3 L724.0 781.8 L730.0 783.3 L737.0 784.7 L746.0 786.1 L751.0 786.5 L756.0 786.4 L762.0 785.9 L768.0 785.1 L773.0 784.1 L778.0 782.8 L783.0 781.2 L788.0 779.3 L803.0 772.8 L810.0 769.4 L826.0 761.3 L830.0 759.5 L836.0 757.2 L840.0 755.1 L843.0 753.0 L846.0 750.6 L866.0 733.1 L869.0 730.9 L872.0 729.1 L877.0 726.8 L882.0 725.4 L887.0 724.4 L891.0 724.5 L893.0 724.8 L896.0 725.7 L901.0 728.0 L908.0 732.1 L915.0 736.9 L926.0 745.4 L944.0 760.5 L963.0 775.8 L977.0 786.8 L991.5 797.6"/>
<path stroke-width="3.0" d="M296.7 1265.5 L397.0 1265.0 L400.0 1264.1 L403.0 1262.6 L406.0 1260.1 L409.0 1256.7 L411.0 1253.6 L413.0 1249.6 L415.0 1244.1 L417.0 1236.6 L420.0 1221.1 L433.0 1140.0 L436.0 1124.4 L437.0 1120.5 L439.0 1114.1 L443.0 1103.3 L446.0 1094.5 L450.0 1080.7 L460.0 1040.7 L463.0 1027.4 L465.0 1017.2 L468.0 1000.1 L472.0 974.4 L484.0 888.9 L488.0 865.0 L496.0 820.5 L497.0 816.4 L500.0 808.1 L502.0 804.4 L503.0 803.2 L505.0 801.5 L507.0 800.5 L509.0 800.1 L510.0 800.2 L512.0 800.8 L514.0 801.9 L515.0 802.7 L518.0 806.1 L519.0 806.8 L521.0 807.5 L525.0 807.7 L536.0 807.1 L538.0 807.3 L539.0 807.7 L540.0 808.2 L542.0 809.9 L550.0 818.2 L553.0 821.0 L556.0 823.3 L559.0 825.1 L566.0 828.8 L574.0 832.7 L590.0 839.6 L596.0 841.6 L599.0 842.2 L601.0 842.2 L603.0 841.9 L606.0 840.8 L609.0 838.8 L612.0 836.1 L617.0 830.4 L635.0 807.0 L640.0 801.4 L643.0 798.5 L645.0 797.0 L647.0 795.8 L651.0 794.3 L655.0 793.7 L659.0 794.0 L662.0 794.7 L664.0 795.6 L667.0 797.3 L669.0 798.9 L673.0 802.9 L687.0 819.1 L693.0 825.6 L696.0 828.3 L700.0 831.6 L704.0 834.3 L708.0 836.6 L712.0 838.5 L716.0 840.0 L721.0 841.4 L728.0 842.9 L734.0 843.9 L746.0 845.5 L756.0 847.0 L762.0 847.4 L767.0 847.0 L772.0 846.2 L778.0 844.9 L785.0 843.1 L791.0 841.3 L798.0 838.9 L814.0 832.7 L831.0 825.1 L835.0 823.2 L839.0 820.9 L847.0 815.8 L854.0 811.0 L868.0 800.3 L873.0 797.4 L878.0 795.3 L884.0 793.7 L889.0 793.0 L893.0 793.2 L898.0 794.3 L902.0 795.6 L906.0 797.4 L910.0 799.8 L915.0 803.2 L928.0 813.0 L972.0 844.1 L981.0 850.2 L991.5 856.6"/>
<path stroke-width="3.8" stroke="#0c0c0c" d="M287.3 871.6 H388.0 M287.3 947.6 H388.0 M287.3 1006.1 H388.0 M287.3 1067.6 H388.0 M287.3 1135.0 H388.0 M288.2 1198.7 H388.0 M296.7 1265.5 H388.0"/>
<path stroke-width="6.2" d="M294.0 759.3 L397.0 759.2 L401.0 758.4 L404.0 757.4 L407.0 755.6 L410.0 753.1 L414.0 749.1 L418.0 744.7 L427.0 734.1 L431.0 729.7 L434.0 725.6 L436.0 721.6 L437.0 719.1 L440.0 709.1 L443.0 695.6 L446.0 679.0 L448.0 665.2 L450.0 646.9 L463.0 506.1 L469.0 435.9 L473.0 385.7 L477.0 332.0 L480.0 285.7 L484.0 215.4 L486.0 187.6 L487.0 176.8 L490.0 148.1 L492.0 131.0 L494.0 115.9 L496.0 102.6 L497.0 96.9 L499.0 88.7 L501.0 83.2 L502.0 81.4 L503.0 80.5 L504.0 80.7 L505.0 81.8 L506.0 83.8 L507.0 86.8 L509.0 95.1 L511.0 105.8 L514.0 124.9 L532.0 250.3 L536.0 276.7 L538.0 288.4 L540.0 297.5 L541.0 301.1 L543.0 307.0 L544.0 309.3 L546.0 312.8 L547.0 314.0 L548.0 314.9 L549.0 315.4 L551.0 315.6 L553.0 315.1 L555.0 313.7 L557.0 311.4 L559.0 307.8 L560.0 305.3 L565.0 288.7 L568.0 281.6 L570.0 278.3 L572.0 276.3 L573.0 275.7 L574.0 275.4 L575.0 275.4 L576.0 275.7 L578.0 276.7 L580.0 278.3 L582.0 280.6 L584.0 283.8 L587.0 289.9 L592.0 301.3 L599.0 315.7 L608.0 332.4 L610.0 335.6 L612.0 338.2 L615.0 341.1 L618.0 343.2 L621.0 344.6 L624.0 345.5 L627.0 345.9 L630.0 345.8 L633.0 345.0 L637.0 343.4 L641.0 341.5 L645.0 339.1 L656.0 331.4 L664.0 326.2 L668.0 322.9 L671.0 319.6 L673.0 316.9 L675.0 313.7 L679.0 305.9 L682.0 298.8 L689.0 279.2 L692.0 271.8 L697.0 261.4 L701.0 254.7 L704.0 250.4 L708.0 245.3 L712.0 241.0 L715.0 238.3 L717.0 236.9 L720.0 235.4 L723.0 234.5 L727.0 234.1 L732.0 234.3 L735.0 234.9 L738.0 236.2 L741.0 238.5 L743.0 240.6 L745.0 243.3 L752.0 253.9 L761.0 266.5 L765.0 271.7 L769.0 276.3 L773.0 280.0 L782.0 287.3 L786.0 290.8 L801.0 306.0 L811.0 315.1 L815.0 318.3 L819.0 320.9 L823.0 323.0 L826.0 324.1 L829.0 324.8 L831.0 324.9 L834.0 324.7 L837.0 324.0 L845.0 320.9 L855.0 315.7 L860.0 313.4 L865.0 311.5 L869.0 310.6 L872.0 310.5 L876.0 310.9 L896.0 314.9 L901.0 315.6 L905.0 315.8 L909.0 315.7 L912.0 315.4 L915.0 314.8 L918.0 313.8 L920.0 312.8 L925.0 309.4 L931.0 304.3 L939.0 295.9 L941.0 294.0 L943.0 292.4 L946.0 290.6 L949.0 289.2 L952.0 288.3 L956.0 287.5 L960.0 287.4 L964.0 287.9 L968.0 289.0 L972.0 290.9 L976.0 293.4 L981.0 297.0 L985.0 300.4 L991.0 306.0 L992.8 307.4"/>
<path stroke-width="6.2" d="M283.0 1382.0 L396.6 1381.8 L401.6 1380.0 L403.6 1378.8 L405.6 1377.1 L408.6 1373.8 L410.6 1371.0 L412.6 1367.3 L414.6 1362.2 L415.6 1358.9 L417.6 1350.3 L419.6 1338.9 L423.6 1309.8 L433.6 1242.1 L435.6 1230.3 L436.6 1226.3 L438.6 1220.6 L444.6 1207.2 L453.6 1183.0 L461.6 1159.6 L464.6 1148.9 L467.6 1135.0 L471.6 1114.1 L478.6 1071.7 L481.6 1055.0 L493.6 996.5 L498.6 965.0 L500.6 956.4 L502.6 950.3 L504.6 946.4 L505.6 945.1 L507.6 943.4 L508.6 942.8 L510.6 942.2 L514.6 941.5 L516.6 941.0 L518.6 940.1 L522.6 937.9 L525.6 935.9 L527.6 934.3 L529.6 932.2 L533.6 927.2 L535.6 925.3 L537.6 923.9 L539.6 923.0 L541.6 922.6 L542.6 922.6 L543.6 922.7 L545.6 923.6 L548.6 925.6 L552.6 928.8 L559.6 935.3 L568.6 942.9 L573.6 946.7 L577.6 949.2 L580.6 950.6 L584.6 952.2 L587.6 953.2 L590.6 953.8 L593.6 954.2 L595.6 954.2 L598.6 953.8 L600.6 953.3 L603.6 952.0 L606.6 950.1 L609.6 947.5 L612.6 944.3 L623.6 929.8 L639.6 907.0 L641.6 904.4 L643.6 902.3 L645.6 900.5 L647.6 899.0 L651.6 896.9 L655.6 895.7 L657.6 895.5 L659.6 895.6 L661.6 896.0 L663.6 896.7 L666.6 898.4 L669.6 901.0 L672.6 904.4 L676.6 909.9 L681.6 917.4 L693.6 937.6 L702.6 951.5 L707.6 958.2 L710.6 961.4 L712.6 963.2 L715.6 965.3 L719.6 967.3 L726.6 969.9 L731.6 971.3 L737.6 972.6 L750.6 974.8 L754.6 975.1 L758.6 974.9 L763.6 974.0 L769.6 972.4 L776.6 969.9 L782.6 967.4 L789.6 963.9 L803.6 956.5 L822.6 945.9 L833.6 940.7 L837.6 938.7 L840.6 936.8 L843.6 934.6 L849.6 929.4 L857.6 921.5 L867.6 910.3 L869.6 908.4 L872.6 906.0 L877.6 902.8 L883.6 900.1 L888.6 898.7 L890.6 898.4 L892.6 898.4 L896.6 899.1 L901.6 900.8 L905.6 902.9 L909.6 905.7 L914.6 910.2 L923.6 919.2 L942.6 937.2 L950.6 944.4 L960.6 952.9 L978.6 967.9 L987.6 974.9 L993.6 979.1 L1002.8 984.3"/>
</g>
<g font-family="'Liberation Sans', sans-serif" fill="#111">
<text transform="translate(1014.56 328.48) scale(0.9964 1.0635)" font-size="49">CoO*</text>
<text transform="translate(1009.07 469.60) scale(1.0024 1.0263)" font-size="49">Day 0 = freshy reduced</text>
<text transform="translate(1009.18 537.20) scale(0.9756 1.0293)" font-size="49">Day 1</text>
<text transform="translate(1009.02 596.60) scale(1.0163 1.0175)" font-size="49">Day 2</text>
<text transform="translate(1009.76 667.50) scale(1.0040 1.0411)" font-size="49">Day 8</text>
<text transform="translate(1013.08 743.60) scale(1.0003 1.0322)" font-size="49">Day 89</text>
<text transform="translate(1013.05 815.30) scale(1.0065 1.0441)" font-size="49">Day 125</text>
<text transform="translate(1013.06 880.20) scale(1.0051 1.0470)" font-size="49">Day 140</text>
<text transform="translate(1012.41 991.80) scale(0.9765 1.0147)" font-size="49">Co</text>
<text transform="translate(1071.62 966.67) scale(1.0807 1.0387)" font-size="32">0</text>
<text transform="translate(1104.07 984.60) scale(0.9977 0.8163)" font-size="49">*</text>
<text transform="translate(633.66 1277.70) scale(1.0094 1.0322)" font-size="49">*Reference compounds</text>
<rect x="1513.4" y="434" width="7.4" height="36" fill="#000"/>
<text transform="translate(95.42 1547.40) scale(0.9910 1.0356)" font-size="48">7650</text>
<text transform="translate(338.75 1547.40) scale(0.9394 1.0356)" font-size="48">7700</text>
<text transform="translate(577.82 1547.40) scale(0.9083 1.0356)" font-size="48">7750</text>
<text transform="translate(810.68 1547.40) scale(0.9687 1.0356)" font-size="48">7800</text>
<text transform="translate(1049.80 1547.40) scale(0.9570 1.0356)" font-size="48">7850</text>
<text transform="translate(474.39 1612.10) scale(1.0081 1.0514)" font-size="51">Energy (eV)</text>
<text transform="translate(74.50 1104.31) rotate(-90) scale(1.0074 1.0685)" font-size="51">Normalised Absorption (A.U.)</text>
</g>
</g>
<g font-family="'Liberation Sans', sans-serif" font-weight="bold" fill="#000">
<text transform="translate(1570.74 468.67) scale(0.9733 1.0066)" font-size="43">53%</text>
<text transform="translate(1665.08 468.67) scale(0.8837 1.0066)" font-size="43">Co</text>
<text transform="translate(1716.82 454.51) scale(1.0526 1.0312)" font-size="28">0</text>
<text transform="translate(1568.53 534.37) scale(0.9758 1.0066)" font-size="43">69%</text>
<text transform="translate(1663.08 534.37) scale(0.8837 1.0066)" font-size="43">Co</text>
<text transform="translate(1714.82 520.21) scale(1.0526 1.0312)" font-size="28">0</text>
<text transform="translate(1570.44 594.57) scale(0.9733 1.0066)" font-size="43">80%</text>
<text transform="translate(1664.78 594.57) scale(0.8837 1.0066)" font-size="43">Co</text>
<text transform="translate(1716.52 580.41) scale(1.0526 1.0312)" font-size="28">0</text>
<text transform="translate(1568.44 659.57) scale(0.9733 1.0066)" font-size="43">85%</text>
<text transform="translate(1662.78 659.57) scale(0.8837 1.0066)" font-size="43">Co</text>
<text transform="translate(1714.52 645.41) scale(1.0526 1.0312)" font-size="28">0</text>
<text transform="translate(1570.24 737.27) scale(0.9733 1.0066)" font-size="43">88%</text>
<text transform="translate(1664.58 737.27) scale(0.8837 1.0066)" font-size="43">Co</text>
<text transform="translate(1716.32 723.11) scale(1.0526 1.0312)" font-size="28">0</text>
<text transform="translate(1568.44 812.47) scale(0.9733 1.0066)" font-size="43">89%</text>
<text transform="translate(1662.78 812.47) scale(0.8837 1.0066)" font-size="43">Co</text>
<text transform="translate(1714.52 798.31) scale(1.0526 1.0312)" font-size="28">0</text>
<text transform="translate(1570.24 873.47) scale(0.9733 1.0066)" font-size="43">87%</text>
<text transform="translate(1664.58 873.47) scale(0.8837 1.0066)" font-size="43">Co</text>
<text transform="translate(1716.32 859.31) scale(1.0526 1.0312)" font-size="28">0</text>
</g>
</svg>
</body></html>
